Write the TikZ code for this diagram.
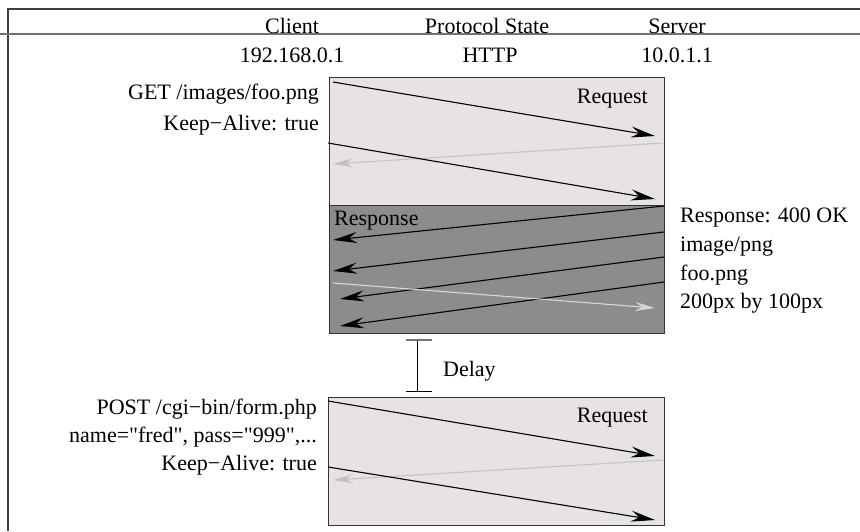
\documentclass[tikz,border=0pt]{standalone}
\usepackage{fontspec}
\setmainfont{Liberation Serif}[Ligatures=TeXOff]
\usetikzlibrary{arrows.meta}
\definecolor{reqfill}{RGB}{230,226,230}
\definecolor{respfill}{RGB}{140,140,140}
\definecolor{faint}{RGB}{195,195,195}
\definecolor{pale}{RGB}{215,215,215}
\tikzset{
  lbl/.style={font=\fontsize{22}{26}\selectfont, inner sep=0pt, anchor=base},
  msg/.style={line width=1.1pt, -{Stealth[length=24pt,width=11pt,inset=8pt]}},
  ghost/.style={line width=1.1pt, -{Stealth[length=20pt,width=9pt,inset=7pt]}},
  reqbox/.style={draw=black!80, line width=1pt, fill=reqfill},
  respbox/.style={draw=black!80, line width=1pt, fill=respfill},
}
\begin{document}
\begin{tikzpicture}[x=1pt,y=-1pt]
\useasboundingbox (0,0) rectangle (860,531);
% frame
\draw[black!75, line width=1.5pt] (860,9) -- (8,9) -- (8,531);
\draw[black!55, line width=1.5pt] (0,34) -- (860,34);
% header
\node[lbl] (hclient) at (292,33) {Client};
\node[lbl] (hstate) at (487,33) {Protocol State};
\node[lbl] (hserver) at (677,33) {Server};
\node[lbl] (ipc) at (292,62) {192.168.0.1};
\node[lbl] (proto) at (490,62) {HTTP};
\node[lbl] (ips) at (677,62) {10.0.1.1};
% first request
\draw[reqbox] (329,77) rectangle (664,205);
\node[lbl, anchor=base east] (req1) at (648,103) {Request};
\coordinate (a1s) at (333,82);  \coordinate (a1e) at (655,136);
\coordinate (g1s) at (663,143); \coordinate (g1e) at (333,164);
\coordinate (a2s) at (328,143); \coordinate (a2e) at (655,199);
\draw[msg] (a1s) -- (a1e);
\draw[ghost, faint] (g1s) -- (g1e);
\draw[msg] (a2s) -- (a2e);
\node[lbl, anchor=base east] (get1) at (319,99) {GET /images/foo.png};
\node[lbl, anchor=base east] (ka1) at (319,130) {Keep−Alive: true};
% response
\draw[respbox] (329,205) rectangle (664,333);
\node[lbl, anchor=base west] (resp) at (334,225) {Response};
\coordinate (r1s) at (664,206); \coordinate (r1e) at (333,240);
\coordinate (r2s) at (664,232); \coordinate (r2e) at (333,271);
\coordinate (r3s) at (664,257); \coordinate (r3e) at (340,299);
\coordinate (r4s) at (664,282); \coordinate (r4e) at (340,326);
\coordinate (p1s) at (333,283); \coordinate (p1e) at (655,308);
\draw[msg] (r1s) -- (r1e);
\draw[msg] (r2s) -- (r2e);
\draw[msg] (r3s) -- (r3e);
\draw[msg] (r4s) -- (r4e);
\draw[ghost, pale] (p1s) -- (p1e);
\node[lbl, anchor=base west] (st) at (680,222) {Response: 400 OK};
\node[lbl, anchor=base west] (ct) at (680,251) {image/png};
\node[lbl, anchor=base west] (fn) at (680,280) {foo.png};
\node[lbl, anchor=base west] (dim) at (680,308) {200px by 100px};
% delay
\coordinate (dtop) at (417,340); \coordinate (dbot) at (417,391);
\draw[line width=1pt] (dtop) -- (dbot);
\draw[line width=1.2pt, black!55] ([xshift=-11pt]dtop) -- ([xshift=15pt]dtop);
\draw[line width=1pt] ([xshift=-11pt]dbot) -- ([xshift=15pt]dbot);
\node[lbl, anchor=base west] (delay) at (443,376) {Delay};
% second request
\draw[reqbox] (328,397) rectangle (664,525);
\node[lbl, anchor=base east] (req2) at (648,422) {Request};
\coordinate (b1s) at (328,401); \coordinate (b1e) at (655,456);
\coordinate (g2s) at (663,460); \coordinate (g2e) at (333,480);
\coordinate (b2s) at (328,467); \coordinate (b2e) at (655,520);
\draw[msg] (b1s) -- (b1e);
\draw[ghost, faint] (g2s) -- (g2e);
\draw[msg] (b2s) -- (b2e);
\node[lbl, anchor=base east] (post) at (317,414) {POST /cgi−bin/form.php};
\node[lbl, anchor=base east] (form) at (317,442) {name="fred", pass="999",...};
\node[lbl, anchor=base east] (ka2) at (317,470) {Keep−Alive: true};
\end{tikzpicture}
\end{document}
